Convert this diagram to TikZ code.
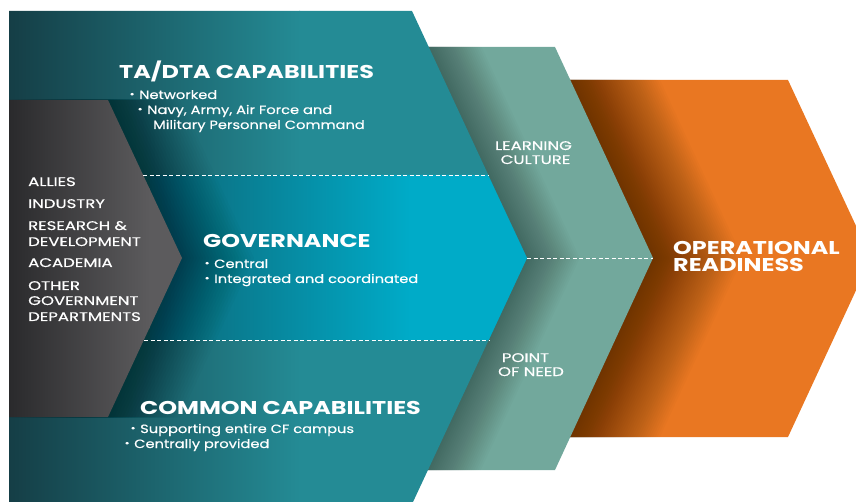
\documentclass[tikz,border=0pt]{standalone}
\usepackage{graphicx}
\usepackage{fontspec}
\newfontfamily\hdfont[FakeStretch=1.29]{Poppins}
\newfontfamily\bdfont[FakeStretch=1.22,FakeBold=0.5]{Poppins}
\newfontfamily\lsfont[FakeStretch=1.32,FakeBold=0.5]{Poppins}
\definecolor{tdark}{HTML}{153E46}
\definecolor{tlight}{HTML}{248B95}
\definecolor{cdark}{HTML}{0E6676}
\definecolor{clight}{HTML}{00ABC8}
\definecolor{gdark}{HTML}{2A2A2C}
\definecolor{glight}{HTML}{5C5B5D}
\definecolor{sage}{HTML}{72A89C}
\definecolor{orng}{HTML}{E97722}
\newcommand\bl{\makebox[9.5pt][l]{\raisebox{0.25ex}{\scalebox{0.8}{\textbullet}}}}
\def\graypath{(9,100) -- (108,100) -- (182,258) -- (108,417) -- (9,417) -- cycle}
\def\tealpath{(9,11) -- (412,11) -- (527,258) -- (413,502) -- (9,502) -- cycle}
\def\sagepath{(400,47) -- (555,47) -- (653,258) -- (555,470) -- (400,470) -- cycle}
\def\orangepath{(540,80) -- (788,80) -- (871,258) -- (788,437) -- (540,437) -- cycle}
\def\cyanpath{(130,175) -- (488,175) -- (527,258) -- (489,340) -- (130,340) -- cycle}
\begin{document}
\begin{tikzpicture}[x=1pt,y=-1pt,
  hd/.style={font=\hdfont\bfseries\fontsize{18.5}{20}\selectfont, text=white, inner sep=0pt, anchor=base west},
  bd/.style={font=\bdfont\fontsize{12}{13}\selectfont, text=white, inner sep=0pt, anchor=base west},
  lst/.style={font=\lsfont\fontsize{12.5}{13}\selectfont, text=white, inner sep=0pt, anchor=base west},
  ctr/.style={font=\lsfont\fontsize{12.5}{13}\selectfont, text=white, inner sep=0pt, anchor=base},
  dashline/.style={white, line width=0.7pt, dash pattern=on 4pt off 2.5pt}]
\useasboundingbox (0,0) rectangle (856,502);
\clip (0,0) rectangle (856,502);
% orange chevron
\fill[orng] \orangepath;
\begin{scope}
  \clip \orangepath;
  \foreach \i in {0,...,39} { \fill[black,opacity=0.015,xshift=\i*2.3] \sagepath; }
\end{scope}
% sage chevron
\fill[sage] \sagepath;
\begin{scope}
  \clip \sagepath;
  \foreach \i in {0,...,24} { \fill[black,opacity=0.017,xshift=\i*2.2] \tealpath; }
\end{scope}
% teal chevron
\begin{scope}
  \clip \tealpath;
  \shade[left color=tdark, right color=tlight] (9,0) rectangle (300,502);
  \fill[tlight] (299,0) rectangle (530,502);
  % governance band
  \begin{scope}
    \clip \cyanpath;
    \shade[left color=cdark, right color=clight] (150,170) rectangle (410,345);
    \fill[clight] (409,170) rectangle (530,345);
  \end{scope}
  \foreach \i in {0,...,24} { \fill[black,opacity=0.016,xshift=\i*3] \graypath; }
\end{scope}
% grey chevron
\begin{scope}
  \clip \graypath;
  \shade[left color=gdark, right color=glight] (9,90) rectangle (150,420);
  \fill[glight] (149,90) rectangle (190,420);
\end{scope}
% dashed dividers
\coordinate (d1a) at (143,175); \coordinate (d1b) at (488,175);
\coordinate (d2a) at (144,340); \coordinate (d2b) at (489,340);
\coordinate (d3a) at (527,258); \coordinate (d3b) at (653,258);
\draw[dashline] (d1a) -- (d1b);
\draw[dashline] (d2a) -- (d2b);
\draw[dashline] (d3a) -- (d3b);
% texts
\node[hd] (tah) at (119,79) {TA/DTA CAPABILITIES};
\node[bd] (ta1) at (129.5,99) {\bl Networked};
\node[bd] (ta2) at (137.5,114) {\bl Navy, Army, Air Force and};
\node[bd] (ta3) at (153,129) {Military Personnel Command};
\node[hd] (gvh) at (203,248) {GOVERNANCE};
\node[bd] (gv1) at (204.5,268) {\bl Central};
\node[bd] (gv2) at (204.5,283) {\bl Integrated and coordinated};
\node[hd] (cch) at (140,414) {COMMON CAPABILITIES};
\node[bd] (cc1) at (130.5,433) {\bl Supporting entire CF campus};
\node[bd] (cc2) at (124.5,448) {\bl Centrally provided};
\node[lst] (l1) at (28,186) {ALLIES};
\node[lst] (l2) at (28,208) {INDUSTRY};
\node[lst] (l3) at (28,230) {RESEARCH \&};
\node[lst] (l4) at (28,246) {DEVELOPMENT};
\node[lst] (l5) at (28,267) {ACADEMIA};
\node[lst] (l6) at (28,290) {OTHER};
\node[lst] (l7) at (28,305) {GOVERNMENT};
\node[lst] (l8) at (28,321) {DEPARTMENTS};
\node[ctr] (lc1) at (533.5,150) {LEARNING};
\node[ctr] (lc2) at (535.5,164) {CULTURE};
\node[ctr] (pn1) at (525.5,362) {POINT};
\node[ctr] (pn2) at (531,376) {OF NEED};
\node[hd] (or1) at (673,255) {OPERATIONAL};
\node[hd] (or2) at (673,272) {READINESS};
\end{tikzpicture}
\end{document}
